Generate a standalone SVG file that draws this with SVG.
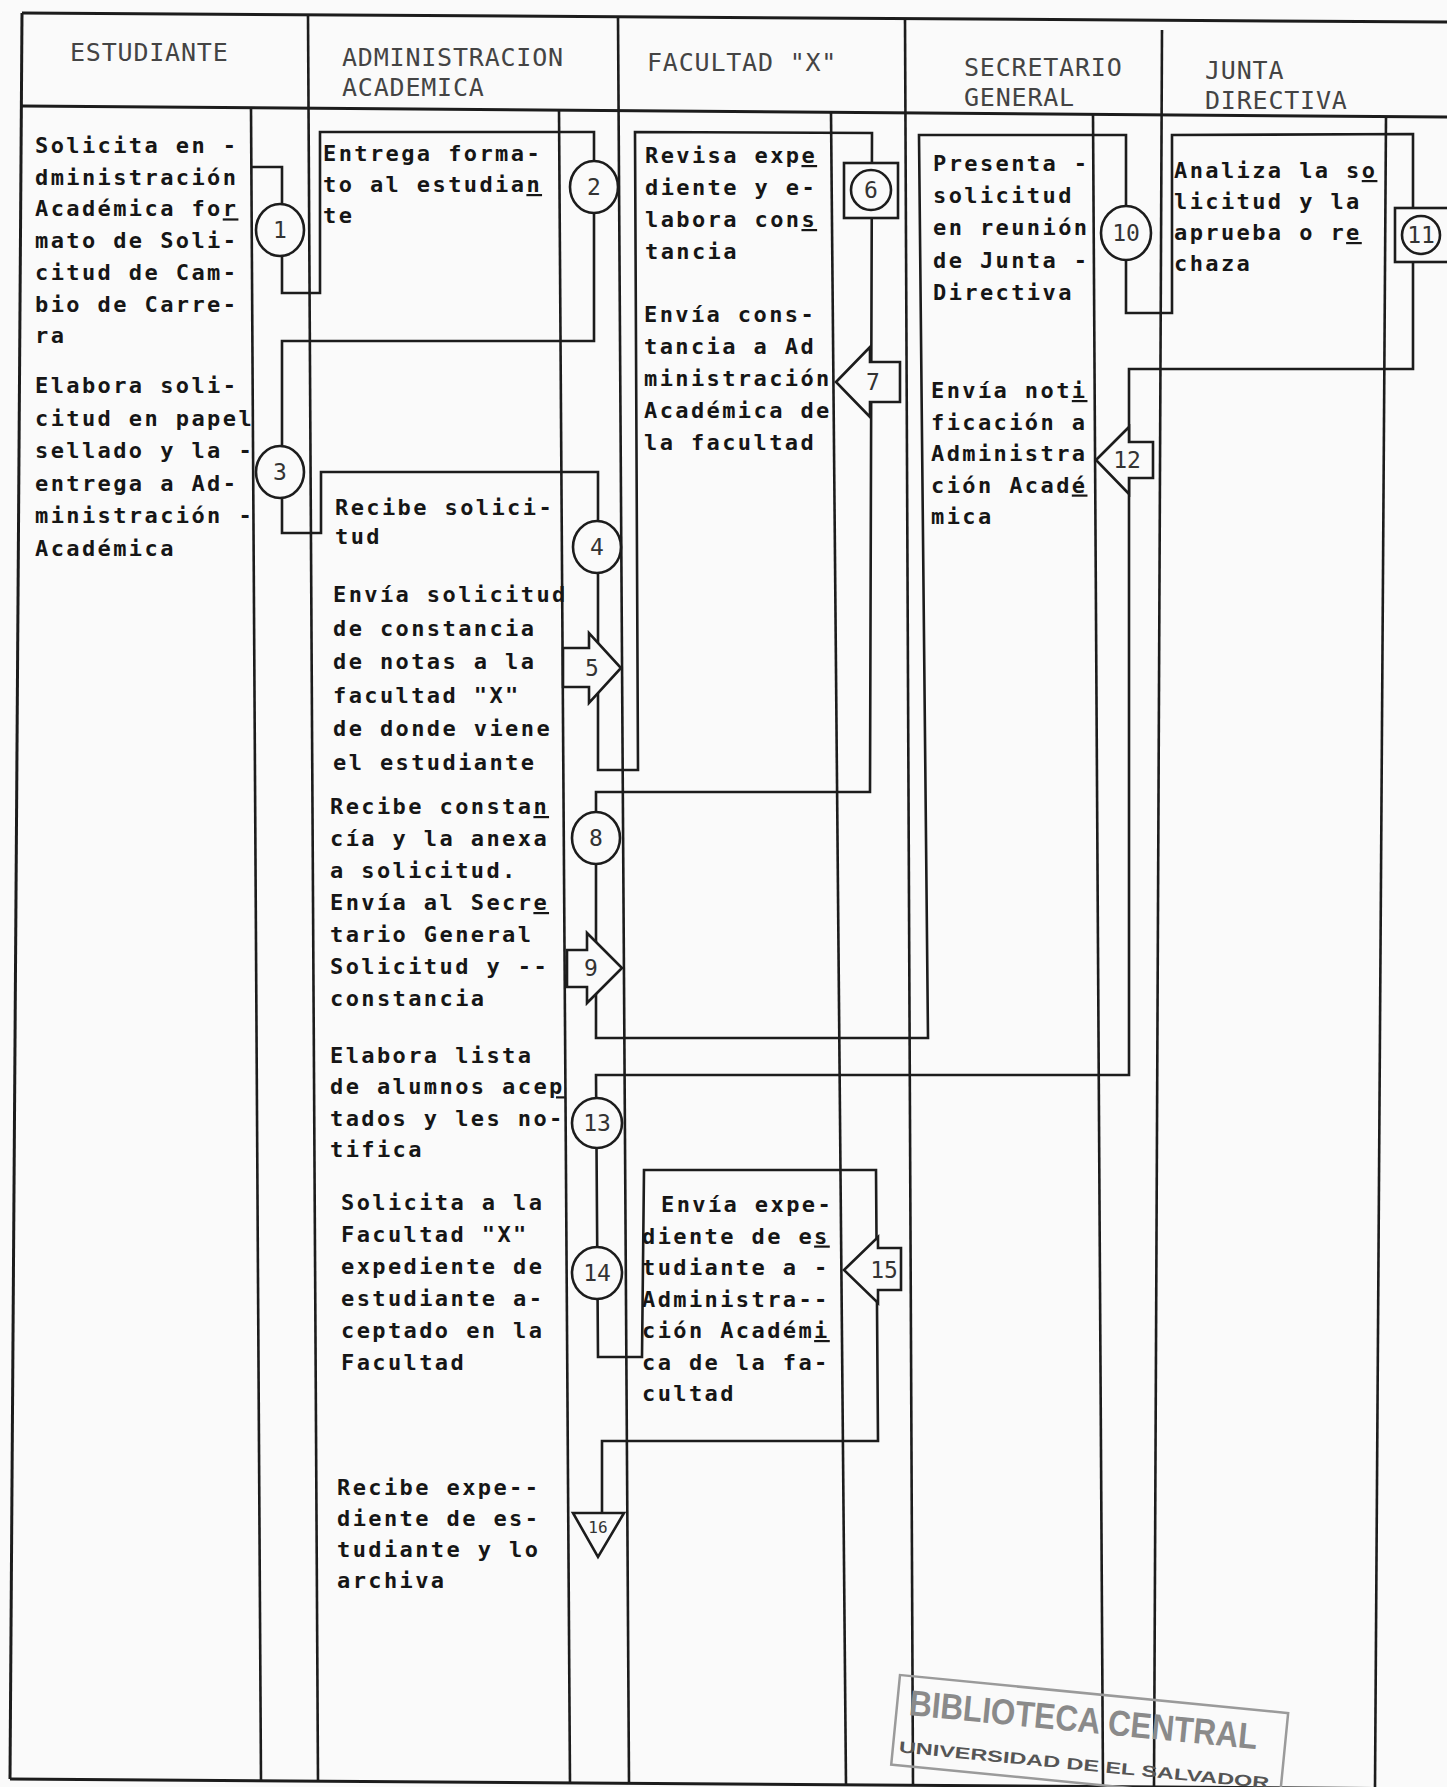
<svg xmlns="http://www.w3.org/2000/svg" width="1447" height="1787" viewBox="0 0 1447 1787">
<style>
.fr{stroke:#1c1c1c;stroke-width:3;fill:none}
.ln{stroke:#1c1c1c;stroke-width:2.6;fill:none}
.cn{stroke:#1c1c1c;stroke-width:2.6;fill:none;stroke-linejoin:miter}
.hd{font-family:"DejaVu Sans Mono","Liberation Mono",monospace;font-size:25px;letter-spacing:0.8px;fill:#444}
.tx{font-family:"DejaVu Sans Mono","Liberation Mono",monospace;font-size:22px;font-weight:bold;letter-spacing:2.4px;fill:#161616}
.sym{fill:#fafafa;stroke:#1c1c1c;stroke-width:2.6}
.num{font-family:"DejaVu Sans Mono","Liberation Mono",monospace;font-size:23px;fill:#333;text-anchor:middle}
.st{font-family:"Liberation Sans",Arial,sans-serif;font-weight:bold}
</style>
<rect width="1447" height="1787" fill="#fafafa"/>

<g id="frame">
<line class="fr" x1="22" y1="13" x2="1447" y2="22"/>
<line class="fr" x1="22" y1="13" x2="10" y2="1779"/>
<line class="fr" x1="22" y1="106" x2="1447" y2="117"/>
<line class="fr" x1="10" y1="1779" x2="1447" y2="1789"/>
<line class="ln" x1="308" y1="15" x2="318" y2="1781"/>
<line class="ln" x1="618" y1="17" x2="629" y2="1784"/>
<line class="ln" x1="905" y1="19" x2="913" y2="1786"/>
<line class="ln" x1="1162" y1="30" x2="1154" y2="1787"/>
<line class="ln" x1="251" y1="108" x2="261" y2="1782"/>
<line class="ln" x1="559" y1="110" x2="570" y2="1784"/>
<line class="ln" x1="831" y1="112" x2="846" y2="1786"/>
<line class="ln" x1="1093" y1="114" x2="1103" y2="1787"/>
<line class="ln" x1="1386" y1="117" x2="1375" y2="1787"/>
</g>

<g id="headers">
<text class="hd" x="70" y="61">ESTUDIANTE</text>
<text class="hd" x="342" y="66">ADMINISTRACION</text>
<text class="hd" x="342" y="96">ACADEMICA</text>
<text class="hd" x="647" y="71">FACULTAD "X"</text>
<text class="hd" x="964" y="76">SECRETARIO</text>
<text class="hd" x="964" y="106">GENERAL</text>
<text class="hd" x="1205" y="79">JUNTA</text>
<text class="hd" x="1205" y="109">DIRECTIVA</text>
</g>

<g id="connectors">
<path class="cn" d="M251,167 L282,167 L282,293 L320,293 L320,132 L594,132 L594,341 L282,341 L282,533 L321,533 L321,472 L598,472 L598,770 L638,770 L635,132 L872,133 L870,792 L596,792 L596,1038 L928,1038 L919,135 L1126,135 L1126,313 L1172,313 L1172,135 L1413,134 L1413,369 L1129,369 L1129,1075 L596,1075 L598,1357 L642,1357 L644,1170 L876,1170 L878,1441 L602,1441 L602,1513"/>
</g>

<g id="step1-estudiante">
<text class="tx" x="35" y="153"><tspan x="35" dy="0">Solicita en -</tspan><tspan x="35" dy="31.7">dministración</tspan><tspan x="35" dy="31.7">Académica fo<tspan text-decoration="underline">r</tspan></tspan><tspan x="35" dy="31.7">mato de Soli-</tspan><tspan x="35" dy="31.7">citud de Cam-</tspan><tspan x="35" dy="31.7">bio de Carre-</tspan><tspan x="35" dy="31.7">ra</tspan></text>
<ellipse class="sym" cx="280" cy="230" rx="24" ry="26"/><text class="num" x="280" y="238">1</text>
</g>

<g id="step2-admin">
<text class="tx" x="323" y="161"><tspan x="323" dy="0">Entrega forma-</tspan><tspan x="323" dy="31">to al estudia<tspan text-decoration="underline">n</tspan></tspan><tspan x="323" dy="31">te</tspan></text>
<ellipse class="sym" cx="594" cy="187" rx="24" ry="26"/><text class="num" x="594" y="195">2</text>
</g>

<g id="step3-estudiante">
<text class="tx" x="35" y="393"><tspan x="35" dy="0">Elabora soli-</tspan><tspan x="35" dy="32.6">citud en papel</tspan><tspan x="35" dy="32.6">sellado y la -</tspan><tspan x="35" dy="32.6">entrega a Ad-</tspan><tspan x="35" dy="32.6">ministración -</tspan><tspan x="35" dy="32.6">Académica</tspan></text>
<ellipse class="sym" cx="280" cy="472" rx="24" ry="26"/><text class="num" x="280" y="480">3</text>
</g>

<g id="step4-admin">
<text class="tx" x="335" y="515"><tspan x="335" dy="0">Recibe solici-</tspan><tspan x="335" dy="29">tud</tspan></text>
<ellipse class="sym" cx="597" cy="547" rx="24" ry="26"/><text class="num" x="597" y="555">4</text>
</g>

<g id="step5-admin">
<text class="tx" x="333" y="602"><tspan x="333" dy="0">Envía solicitud</tspan><tspan x="333" dy="33.5">de constancia</tspan><tspan x="333" dy="33.5">de notas a la</tspan><tspan x="333" dy="33.5">facultad "X"</tspan><tspan x="333" dy="33.5">de donde viene</tspan><tspan x="333" dy="33.5">el estudiante</tspan></text>
<polygon class="sym" points="563,648 589,648 589,633 621,668 589,703 589,687 563,687"/><text class="num" x="592" y="676">5</text>
</g>

<g id="step6-facultad">
<text class="tx" x="645" y="163"><tspan x="645" dy="0">Revisa exp<tspan text-decoration="underline">e</tspan></tspan><tspan x="645" dy="32">diente y e-</tspan><tspan x="645" dy="32">labora con<tspan text-decoration="underline">s</tspan></tspan><tspan x="645" dy="32">tancia</tspan></text>
<rect class="sym" x="844" y="163" width="54" height="55"/><circle class="sym" cx="871" cy="190" r="20"/><text class="num" x="871" y="198">6</text>
</g>

<g id="step7-facultad">
<text class="tx" x="644" y="322"><tspan x="644" dy="0">Envía cons-</tspan><tspan x="644" dy="32">tancia a Ad</tspan><tspan x="644" dy="32">ministración</tspan><tspan x="644" dy="32">Académica de</tspan><tspan x="644" dy="32">la facultad</tspan></text>
<polygon class="sym" points="836,382 870,347 870,362 900,362 900,402 870,402 870,417"/><text class="num" x="873" y="390">7</text>
</g>

<g id="step8-admin">
<text class="tx" x="330" y="814"><tspan x="330" dy="0">Recibe consta<tspan text-decoration="underline">n</tspan></tspan><tspan x="330" dy="32">cía y la anexa</tspan><tspan x="330" dy="32">a solicitud.</tspan><tspan x="330" dy="32">Envía al Secr<tspan text-decoration="underline">e</tspan></tspan><tspan x="330" dy="32">tario General</tspan><tspan x="330" dy="32">Solicitud y --</tspan><tspan x="330" dy="32">constancia</tspan></text>
<ellipse class="sym" cx="596" cy="838" rx="24" ry="26"/><text class="num" x="596" y="846">8</text>
</g>

<g id="step9-admin">
<polygon class="sym" points="567,950 587,950 587,933 622,968 587,1003 587,987 567,987"/><text class="num" x="591" y="976">9</text>
</g>

<g id="step10-secretario">
<text class="tx" x="933" y="171"><tspan x="933" dy="0">Presenta -</tspan><tspan x="933" dy="32.2">solicitud</tspan><tspan x="933" dy="32.2">en reunión</tspan><tspan x="933" dy="32.2">de Junta -</tspan><tspan x="933" dy="32.2">Directiva</tspan></text>
<ellipse class="sym" cx="1126" cy="233" rx="25" ry="27"/><text class="num" x="1126" y="241">10</text>
</g>

<g id="step11-junta">
<text class="tx" x="1174" y="178"><tspan x="1174" dy="0">Analiza la s<tspan text-decoration="underline">o</tspan></tspan><tspan x="1174" dy="31">licitud y la</tspan><tspan x="1174" dy="31">aprueba o r<tspan text-decoration="underline">e</tspan></tspan><tspan x="1174" dy="31">chaza</tspan></text>
<rect class="sym" x="1395" y="208" width="54" height="54"/><circle class="sym" cx="1421" cy="235" r="19"/><text class="num" x="1421" y="243">11</text>
</g>

<g id="step12-secretario">
<text class="tx" x="931" y="398"><tspan x="931" dy="0">Envía not<tspan text-decoration="underline">i</tspan></tspan><tspan x="931" dy="31.5">ficación a</tspan><tspan x="931" dy="31.5">Administra</tspan><tspan x="931" dy="31.5">ción Acad<tspan text-decoration="underline">é</tspan></tspan><tspan x="931" dy="31.5">mica</tspan></text>
<polygon class="sym" points="1096,460 1129,427 1129,442 1153,442 1153,478 1129,478 1129,494"/><text class="num" x="1127" y="468">12</text>
</g>

<g id="step13-admin">
<text class="tx" x="330" y="1063"><tspan x="330" dy="0">Elabora lista</tspan><tspan x="330" dy="31.3">de alumnos ace<tspan text-decoration="underline">p</tspan></tspan><tspan x="330" dy="31.3">tados y les no-</tspan><tspan x="330" dy="31.3">tifica</tspan></text>
<ellipse class="sym" cx="597" cy="1123" rx="25" ry="25"/><text class="num" x="597" y="1131">13</text>
</g>

<g id="step14-admin">
<text class="tx" x="341" y="1210"><tspan x="341" dy="0">Solicita a la</tspan><tspan x="341" dy="32">Facultad "X"</tspan><tspan x="341" dy="32">expediente de</tspan><tspan x="341" dy="32">estudiante a-</tspan><tspan x="341" dy="32">ceptado en la</tspan><tspan x="341" dy="32">Facultad</tspan></text>
<ellipse class="sym" cx="597" cy="1273" rx="25" ry="26"/><text class="num" x="597" y="1281">14</text>
</g>

<g id="step15-facultad">
<text class="tx" x="661" y="1212"><tspan x="661" dy="0">Envía expe-</tspan><tspan x="642" dy="31.5">diente de e<tspan text-decoration="underline">s</tspan></tspan><tspan x="642" dy="31.5">tudiante a -</tspan><tspan x="642" dy="31.5">Administra--</tspan><tspan x="642" dy="31.5">ción Académ<tspan text-decoration="underline">i</tspan></tspan><tspan x="642" dy="31.5">ca de la fa-</tspan><tspan x="642" dy="31.5">cultad</tspan></text>
<polygon class="sym" points="844,1270 878,1237 878,1248 901,1248 901,1290 878,1290 878,1303"/><text class="num" x="884" y="1278">15</text>
</g>

<g id="step16-admin">
<text class="tx" x="337" y="1495"><tspan x="337" dy="0">Recibe expe--</tspan><tspan x="337" dy="31">diente de es-</tspan><tspan x="337" dy="31">tudiante y lo</tspan><tspan x="337" dy="31">archiva</tspan></text>
<polygon class="sym" points="573,1513 624,1513 598,1557"/><text class="num" x="598" y="1533" style="font-size:16px">16</text>
</g>

<g id="stamp" transform="rotate(5.6 900 1675)">
<rect x="900" y="1675" width="390" height="90" fill="none" stroke="#9a9a9a" stroke-width="2.5"/>
<text class="st" x="912" y="1714" font-size="36" fill="#8a8a8a" textLength="350" lengthAdjust="spacingAndGlyphs">BIBLIOTECA CENTRAL</text>
<text class="st" x="906" y="1752" font-size="16" fill="#555" textLength="372" lengthAdjust="spacingAndGlyphs">UNIVERSIDAD DE EL SALVADOR</text>
</g>
</svg>
